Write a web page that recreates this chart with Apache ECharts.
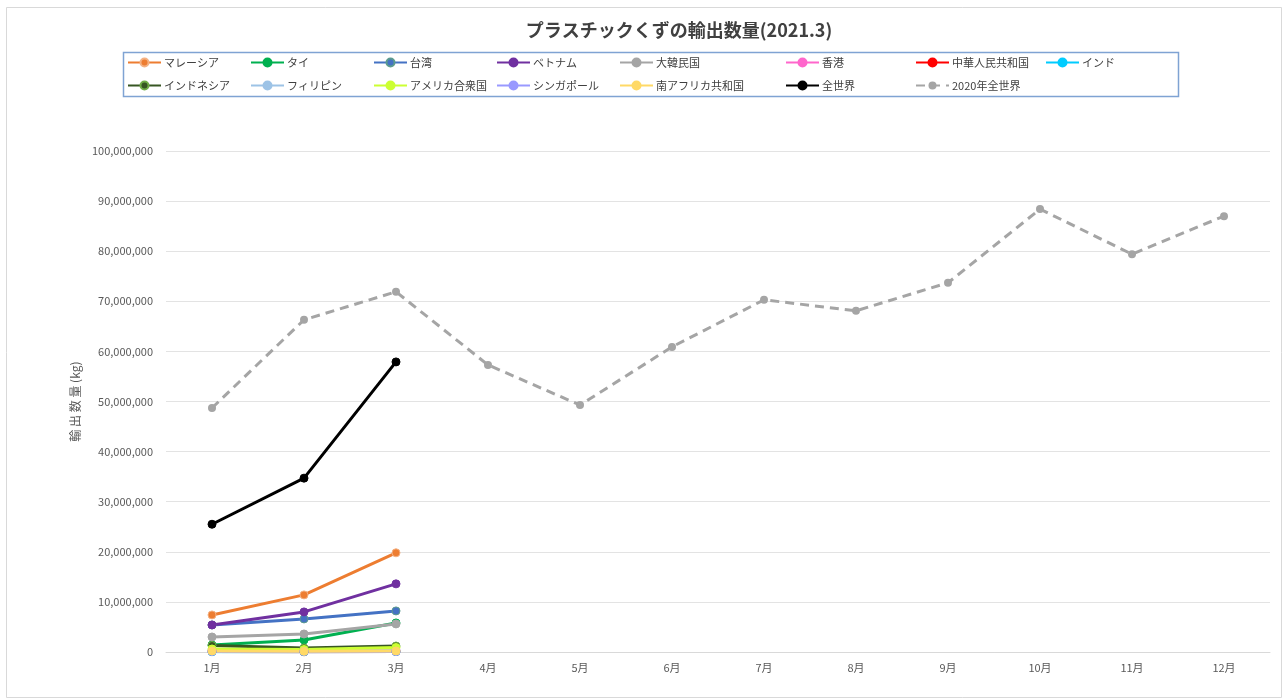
<!DOCTYPE html>
<html><head><meta charset="utf-8">
<script src="https://cdn.jsdelivr.net/npm/echarts@6/dist/echarts.min.js"></script>
<style>html,body{margin:0;padding:0;background:#fff}#c{width:1287px;height:700px}</style>
</head><body><div id="c"></div>
<script>
const months = ['1月','2月','3月','4月','5月','6月','7月','8月','9月','10月','11月','12月'];
const malaysia = [7400000, 11400000, 19800000];
const thailand = [1400000, 2400000, 5800000];
const taiwan = [5400000, 6600000, 8200000];
const vietnam = [5400000, 8000000, 13600000];
const korea = [3000000, 3600000, 5600000];
const hongkong = [300000, 200000, 300000];
const china = [100000, 50000, 100000];
const india = [50000, 50000, 80000];
const indonesia = [1300000, 800000, 1200000];
const philippines = [300000, 200000, 300000];
const usa = [600000, 500000, 900000];
const singapore = [100000, 100000, 100000];
const southAfrica = [200000, 150000, 200000];
const world2021 = [25500000, 34700000, 57900000];
const world2020 = [48700000, 66300000, 71900000, 57300000, 49300000, 60900000, 70300000, 68100000, 73700000, 88400000, 79400000, 87000000];
const yTicks = [0, 100000000, 10000000];

const FONT = '"Noto Sans CJK JP", "Noto Sans", sans-serif';
const seriesDefs = [
  ['マレーシア', malaysia, '#ed7d31', '#f4b183'],
  ['タイ', thailand, '#00b050', '#00b050'],
  ['台湾', taiwan, '#4472c4', '#5b9b8f'],
  ['ベトナム', vietnam, '#7030a0', '#7030a0'],
  ['大韓民国', korea, '#a5a5a5', '#a5a5a5'],
  ['香港', hongkong, '#ff66cc', '#ff66cc'],
  ['中華人民共和国', china, '#ff0000', '#ff0000'],
  ['インド', india, '#00ccff', '#00ccff'],
  ['インドネシア', indonesia, '#375623', '#70ad47'],
  ['フィリピン', philippines, '#9dc3e6', '#9dc3e6'],
  ['アメリカ合衆国', usa, '#ccff33', '#ccff33'],
  ['シンガポール', singapore, '#9999ff', '#9999ff'],
  ['南アフリカ共和国', southAfrica, '#ffd966', '#ffd966'],
  ['全世界', world2021, '#000000', '#000000']
];
const series = seriesDefs.map(d => ({
  name: d[0], type: 'line', data: d[1], symbol: 'circle', symbolSize: 8,
  lineStyle: {color: d[2], width: 3},
  itemStyle: {color: d[2], borderColor: d[3], borderWidth: 1},
  emphasis: {disabled: true}, animation: false
}));
series.push({
  name: '2020年全世界', type: 'line', data: world2020, symbol: 'circle', symbolSize: 8,
  lineStyle: {color: '#a5a5a5', width: 3, type: [9, 6]},
  itemStyle: {color: '#a5a5a5'}, emphasis: {disabled: true}, animation: false
});

const cols = [
  [127, ['マレーシア', 'インドネシア']],
  [250, ['タイ', 'フィリピン']],
  [373, ['台湾', 'アメリカ合衆国']],
  [496, ['ベトナム', 'シンガポール']],
  [619, ['大韓民国', '南アフリカ共和国']],
  [785, ['香港', '全世界']],
  [915, ['中華人民共和国', '2020年全世界']],
  [1045, ['インド']]
];
const legends = cols.map(c => ({
  left: c[0], top: 57, orient: 'vertical', data: c[1], itemWidth: 33, itemHeight: 10, itemGap: 12,
  padding: 0, selectedMode: false, textStyle: {fontFamily: FONT, fontSize: 11, color: '#404040', padding: [0, 0, 0, -2]}
}));

const chart = echarts.init(document.getElementById('c'));
chart.setOption({
  animation: false,
  backgroundColor: '#fff',
  title: {text: 'プラスチックくずの輸出数量(2021.3)', left: 674, top: 16, textAlign: 'center',
    textStyle: {fontFamily: FONT, fontSize: 18, fontWeight: 'bold', color: '#404040'}},
  legend: legends,
  graphic: [
    {type: 'rect', shape: {x: 6.5, y: 7.5, width: 1275, height: 690}, style: {fill: null, stroke: '#d9d9d9', lineWidth: 1}, silent: true, z: -1},
    {type: 'rect', shape: {x: 123.5, y: 52.5, width: 1055, height: 44}, style: {fill: null, stroke: '#7fa3d3', lineWidth: 1.5}, silent: true}
  ],
  grid: {left: 166, right: 17, top: 151, bottom: 48},
  xAxis: {type: 'category', data: months, boundaryGap: true,
    axisLine: {lineStyle: {color: '#d9d9d9'}}, axisTick: {show: false},
    axisLabel: {fontFamily: FONT, fontSize: 11, color: '#595959', margin: 10}},
  yAxis: {type: 'value', min: yTicks[0], max: yTicks[1], interval: yTicks[2],
    name: '輸 出 数 量 (kg)', nameLocation: 'middle', nameGap: 77, nameRotate: 90,
    nameTextStyle: {fontFamily: FONT, fontSize: 12, color: '#595959'},
    axisLine: {show: false}, axisTick: {show: false},
    splitLine: {lineStyle: {color: '#e3e3e3', width: 1}},
    axisLabel: {fontFamily: FONT, fontSize: 11, color: '#595959', margin: 13,
      formatter: v => v.toLocaleString('en-US')}},
  series: series
});
</script></body></html>
